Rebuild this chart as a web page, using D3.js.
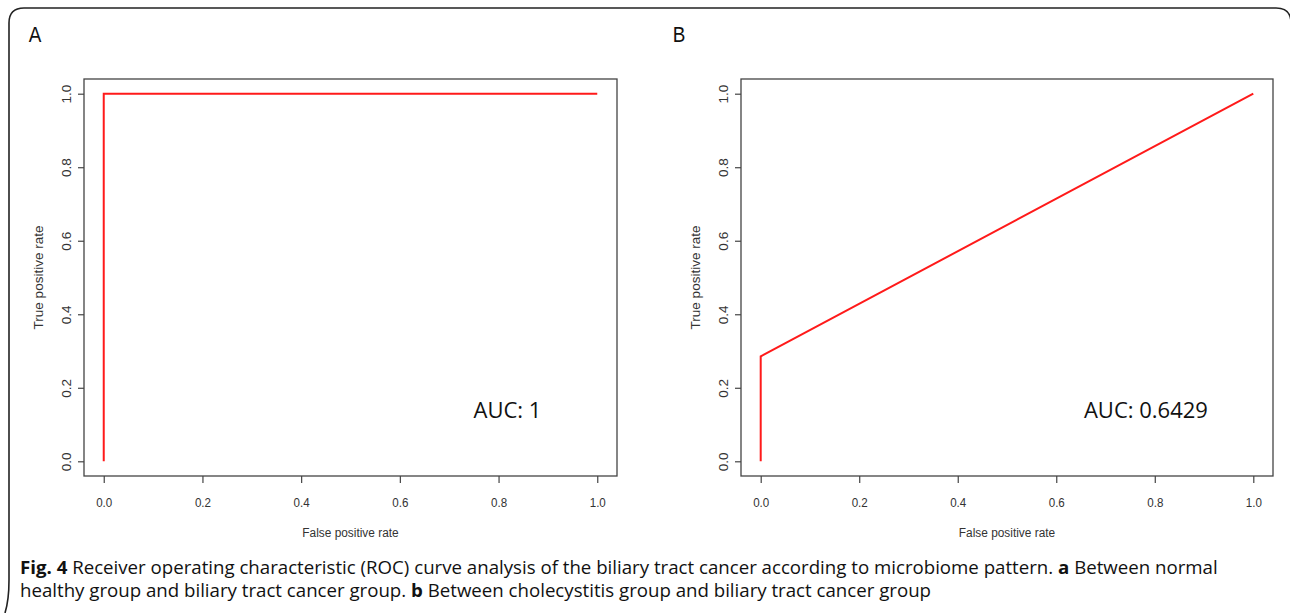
<!DOCTYPE html>
<html>
<head>
<meta charset="utf-8">
<script src="https://cdn.jsdelivr.net/npm/d3@7"></script>
<style>
  body { margin: 0; background: #fff; }
  svg { display: block; }
  .axis text { font-family: "Liberation Sans", Arial, sans-serif; font-size: 13.5px; fill: #333; }
  .axis line { stroke: #444; stroke-width: 1.2; }
  .axis path { display: none; }
  .title { font-family: "Liberation Sans", Arial, sans-serif; font-size: 13.5px; fill: #333; }
  .caption { font-family: "Open Sans", "Noto Sans", sans-serif; font-size: 17.5px; fill: #111; }
</style>
</head>
<body>
<div id="chart"></div>
<script>
// ROC curves
const fprA = [0, 0, 1];
const tprA = [0, 1, 1];
const fprB = [0, 0, 1];
const tprB = [0, 0.2857, 1];
const rateTicks = [0, 0.2, 0.4, 0.6, 0.8, 1.0];
const panelNames = ["A", "B"];
const aucLabels = ["AUC: 1", "AUC: 0.6429"];
const aucPos = [[0.818, 0.14], [0.782, 0.14]];

let W = 1290, H = 613,
    squeeze = 0.86,   // source picture is slightly squashed horizontally
    panels = [
        {box: {x0: 84, x1: 617, y0: 79, y1: 476}, fpr: fprA, tpr: tprA, labelX: 35},
        {box: {x0: 741, x1: 1273, y0: 79, y1: 476}, fpr: fprB, tpr: tprB, labelX: 679}
    ];

let svg = d3.select('#chart').append('svg')
    .attr('width', W)
    .attr('height', H);

// outer frame with rounded top corners
svg.append('path')
    .attr('d', 'M5,613 Q9,600 9,580 L9,23 Q9,8 24,8 L1276,8 Q1291,8 1291,23 L1291,613')
    .attr('fill', 'none')
    .attr('stroke', '#222')
    .attr('stroke-width', 1.6);

panels.forEach((p, i) => {
    let b = p.box,
        // R pads the range by 4% on each side
        x = d3.scaleLinear().domain([-0.04, 1.04]).range([b.x0, b.x1]),
        y = d3.scaleLinear().domain([-0.04, 1.04]).range([b.y1, b.y0]),
        g = svg.append('g');

    // panel letter
    g.append('text')
        .attr('transform', `translate(${p.labelX},42) scale(${squeeze},1)`)
        .attr('text-anchor', 'middle')
        .attr('font-family', '"Liberation Sans", Arial, sans-serif')
        .attr('font-size', 22)
        .attr('fill', '#111')
        .text(panelNames[i]);

    // x axis
    g.append('g')
        .classed('axis', true)
        .attr('transform', `translate(0,${b.y1})`)
        .call(d3.axisBottom(x).tickValues(rateTicks).tickFormat(d3.format('.1f')).tickSize(7).tickPadding(14))
        .selectAll('text')
        .attr('transform', `scale(${squeeze},1)`);

    // y axis, labels rotated like R's default las=0
    g.append('g')
        .classed('axis', true)
        .attr('transform', `translate(${b.x0},0)`)
        .call(d3.axisLeft(y).tickValues(rateTicks).tickFormat(d3.format('.1f')).tickSize(6))
        .selectAll('text')
        .attr('x', 0)
        .attr('dy', '0.35em')
        .attr('text-anchor', 'middle')
        .attr('transform', 'translate(-18,0) rotate(-90)');

    // plot box
    g.append('rect')
        .attr('x', b.x0)
        .attr('y', b.y0)
        .attr('width', b.x1 - b.x0)
        .attr('height', b.y1 - b.y0)
        .attr('fill', 'none')
        .attr('stroke', '#444')
        .attr('stroke-width', 1.3);

    // axis titles
    g.append('text')
        .classed('title', true)
        .attr('text-anchor', 'middle')
        .attr('font-size', 13)
        .attr('transform', `translate(${(x(0) + x(1)) / 2},537) scale(0.88,1)`)
        .text('False positive rate');

    g.append('text')
        .classed('title', true)
        .attr('text-anchor', 'middle')
        .attr('dy', '0.35em')
        .attr('transform', `translate(${b.x0 - 46},${(y(0) + y(1)) / 2}) rotate(-90)`)
        .text('True positive rate');

    // ROC curve
    let pts = p.fpr.map((f, k) => [f, p.tpr[k]]);
    g.append('path')
        .datum(pts)
        .attr('d', d3.line().x(d => x(d[0])).y(d => y(d[1])))
        .attr('fill', 'none')
        .attr('stroke', '#ff1a1a')
        .attr('stroke-width', 2);

    // AUC annotation
    g.append('text')
        .attr('text-anchor', 'middle')
        .attr('dy', '0.35em')
        .attr('transform', `translate(${x(aucPos[i][0])},${y(aucPos[i][1])})`)
        .attr('font-family', '"Open Sans", "Noto Sans", sans-serif')
        .attr('font-size', 22)
        .attr('fill', '#111')
        .text(aucLabels[i]);
});

// figure caption
let captionLines = [
    [["Fig. 4", true], [" Receiver operating characteristic (ROC) curve analysis of the biliary tract cancer according to microbiome pattern. ", false], ["a", true], [" Between normal", false]],
    [["healthy group and biliary tract cancer group. ", false], ["b", true], [" Between cholecystitis group and biliary tract cancer group", false]]
];

let capTexts = captionLines.map((line, k) => {
    let t = svg.append('text')
        .classed('caption', true)
        .attr('x', 0)
        .attr('y', 0);
    line.forEach(part => {
        t.append('tspan')
            .attr('font-weight', part[1] ? 'bold' : null)
            .text(part[0]);
    });
    return t;
});

// fit first line to the width it has in the figure, reuse factor for the second
let fit = 1199 / capTexts[0].node().getComputedTextLength();
capTexts.forEach((t, k) => {
    t.attr('transform', `translate(20,${574 + k * 23}) scale(${fit},1)`);
});
</script>
</body>
</html>
